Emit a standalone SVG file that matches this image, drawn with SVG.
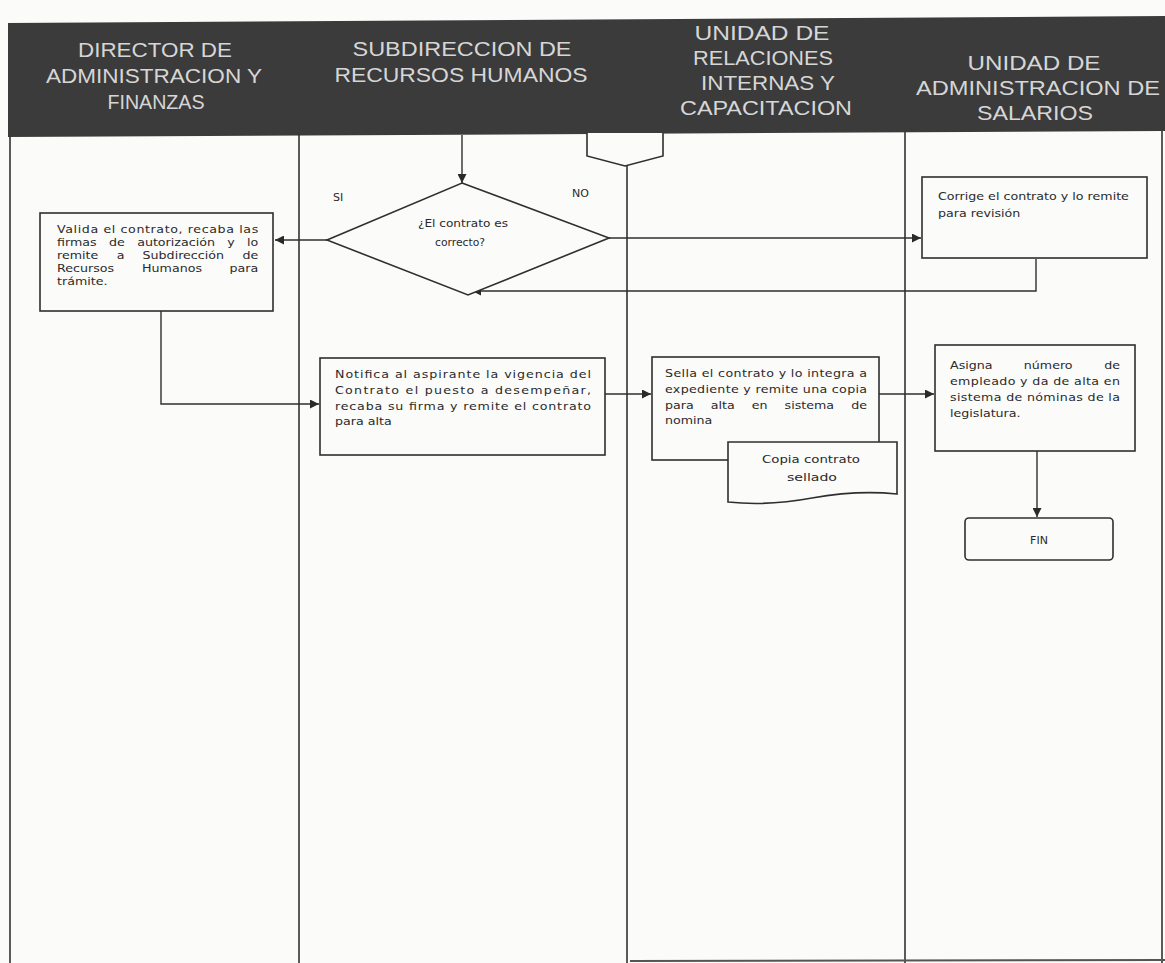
<svg xmlns="http://www.w3.org/2000/svg" width="1165" height="963" viewBox="0 0 1165 963">
<defs>
<marker id="ah" viewBox="0 0 10 10" refX="10" refY="5" markerWidth="9" markerHeight="9" markerUnits="userSpaceOnUse" orient="auto">
<path d="M0,0 L10,5 L0,10 Z" fill="#2a2a2a"/>
</marker>
<style>
.hd{font-family:"Liberation Sans",Arial,sans-serif;font-size:20px;fill:#d6d6d6;text-anchor:middle}
.t{font-family:"DejaVu Sans","Liberation Sans",sans-serif;font-size:11px;fill:#2a2a2a}
.tc{font-family:"DejaVu Sans","Liberation Sans",sans-serif;font-size:11px;fill:#2a2a2a;text-anchor:middle}
.box{fill:#fbfbfa;stroke:#2f2f2f;stroke-width:1.6}
.ln{fill:none;stroke:#2f2f2f;stroke-width:1.4}
.lane{fill:none;stroke:#333;stroke-width:1.6}
</style>
</defs>
<rect x="0" y="0" width="1165" height="963" fill="#fbfbfa"/>

<g id="header">
<polygon points="8,23 1165,16 1165,131 8,137" fill="#3b3b3b"/>
<text class="hd" x="155" y="57" textLength="154" lengthAdjust="spacingAndGlyphs">DIRECTOR DE</text>
<text class="hd" x="154" y="83" textLength="216" lengthAdjust="spacingAndGlyphs">ADMINISTRACION Y</text>
<text class="hd" x="156" y="109" textLength="97" lengthAdjust="spacingAndGlyphs">FINANZAS</text>
<text class="hd" x="462" y="56" textLength="219" lengthAdjust="spacingAndGlyphs">SUBDIRECCION DE</text>
<text class="hd" x="461" y="82" textLength="253" lengthAdjust="spacingAndGlyphs">RECURSOS HUMANOS</text>
<text class="hd" x="762" y="40" textLength="135" lengthAdjust="spacingAndGlyphs">UNIDAD DE</text>
<text class="hd" x="763" y="65" textLength="140" lengthAdjust="spacingAndGlyphs">RELACIONES</text>
<text class="hd" x="768" y="90" textLength="134" lengthAdjust="spacingAndGlyphs">INTERNAS Y</text>
<text class="hd" x="766" y="115" textLength="172" lengthAdjust="spacingAndGlyphs">CAPACITACION</text>
<text class="hd" x="1034" y="70" textLength="133" lengthAdjust="spacingAndGlyphs">UNIDAD DE</text>
<text class="hd" x="1038" y="95" textLength="244" lengthAdjust="spacingAndGlyphs">ADMINISTRACION DE</text>
<text class="hd" x="1035" y="120" textLength="116" lengthAdjust="spacingAndGlyphs">SALARIOS</text>
</g>

<g id="lanes">
<line class="lane" x1="10" y1="136" x2="10" y2="963"/>
<line class="lane" x1="299" y1="134" x2="299" y2="963"/>
<line class="lane" x1="627" y1="133" x2="627" y2="963"/>
<line class="lane" x1="905" y1="132" x2="905" y2="963"/>
<line class="lane" x1="1162" y1="131" x2="1162" y2="963"/>
<line x1="630" y1="961" x2="1165" y2="960" stroke="#555" stroke-width="2"/>
</g>

<g id="connectors">
<path class="ln" d="M462,135 V183" marker-end="url(#ah)"/>
<path class="ln" d="M327,240 H275" marker-end="url(#ah)"/>
<path class="ln" d="M609,238 H921" marker-end="url(#ah)"/>
<path class="ln" d="M1036,259 V291 H472" marker-end="url(#ah)"/>
<path class="ln" d="M161,311 V404 H319" marker-end="url(#ah)"/>
<path class="ln" d="M605,394 H651" marker-end="url(#ah)"/>
<path class="ln" d="M879,394 H934" marker-end="url(#ah)"/>
<path class="ln" d="M1037,451 V517" marker-end="url(#ah)"/>
<text class="t" x="333" y="201" font-size="9">SI</text>
<text class="t" x="572" y="197" font-size="9">NO</text>
</g>

<g id="offpage">
<path class="box" d="M587,133 V156 L625,166 L663,156 V133"/>
</g>

<g id="decision">
<polygon class="box" points="462,183 609,238 468,295 327,240"/>
<text class="tc" x="463" y="227" textLength="90" lengthAdjust="spacingAndGlyphs">¿El contrato es</text>
<text class="tc" x="460" y="246" textLength="50" lengthAdjust="spacingAndGlyphs">correcto?</text>
</g>

<g id="valida">
<rect class="box" x="40" y="213" width="233" height="98"/>
<g transform="matrix(1.15,0,0,1,-8.55,0)">
<text class="t" x="57" y="233" textLength="175" lengthAdjust="spacing">Valida el contrato, recaba las</text>
<text class="t" y="246"><tspan x="57">firmas</tspan><tspan x="102.3">de</tspan><tspan x="126.7">autorización</tspan><tspan x="205.1">y</tspan><tspan x="222.3">lo</tspan></text>
<text class="t" y="259"><tspan x="57">remite</tspan><tspan x="108.9">a</tspan><tspan x="131.4">Subdirección</tspan><tspan x="218.3">de</tspan></text>
<text class="t" y="272"><tspan x="57">Recursos</tspan><tspan x="131">Humanos</tspan><tspan x="207">para</tspan></text>
<text class="t" x="57" y="285">trámite.</text>
</g>
</g>

<g id="corrige">
<rect class="box" x="922" y="177" width="225" height="81"/>
<g transform="matrix(1.15,0,0,1,-140.7,0)">
<text class="t" x="938" y="200" textLength="166" lengthAdjust="spacingAndGlyphs">Corrige el contrato y lo remite</text>
<text class="t" x="938" y="217">para revisión</text>
</g>
</g>

<g id="notifica">
<rect class="box" x="320" y="358" width="285" height="97"/>
<g transform="matrix(1.15,0,0,1,-50.25,0)">
<text class="t" x="335" y="378" textLength="222.6" lengthAdjust="spacing">Notifica al aspirante la vigencia del</text>
<text class="t" x="335" y="394" textLength="222.6" lengthAdjust="spacing">Contrato el puesto a desempeñar,</text>
<text class="t" x="335" y="410" textLength="222.6" lengthAdjust="spacing">recaba su firma y remite el contrato</text>
<text class="t" x="335" y="425">para alta</text>
</g>
</g>

<g id="sella">
<rect class="box" x="652" y="357" width="227" height="103"/>
<g transform="matrix(1.15,0,0,1,-99.75,0)">
<text class="t" x="665" y="377" textLength="175.7" lengthAdjust="spacing">Sella el contrato y lo integra a</text>
<text class="t" x="665" y="393" textLength="175.7" lengthAdjust="spacing">expediente y remite una copia</text>
<text class="t" y="409"><tspan x="665">para</tspan><tspan x="704.8">alta</tspan><tspan x="740.5">en</tspan><tspan x="769">sistema</tspan><tspan x="826.9">de</tspan></text>
<text class="t" x="665" y="424">nomina</text>
</g>
</g>

<g id="copia">
<path class="box" d="M728,442 H897 V494 C868,491 840,493 812,498 C785,503 755,505 728,502 Z"/>
<text class="tc" x="811" y="463" textLength="98" lengthAdjust="spacingAndGlyphs">Copia contrato</text>
<text class="tc" x="812" y="481" textLength="50" lengthAdjust="spacingAndGlyphs">sellado</text>
</g>

<g id="asigna">
<rect class="box" x="935" y="345" width="200" height="106"/>
<g transform="matrix(1.15,0,0,1,-142.5,0)">
<text class="t" y="369"><tspan x="950">Asigna</tspan><tspan x="1014.2">número</tspan><tspan x="1084.1">de</tspan></text>
<text class="t" x="950" y="385" textLength="147.8" lengthAdjust="spacing">empleado y da de alta en</text>
<text class="t" x="950" y="401" textLength="147.8" lengthAdjust="spacing">sistema de nóminas de la</text>
<text class="t" x="950" y="417">legislatura.</text>
</g>
</g>

<g id="fin">
<rect class="box" x="965" y="518" width="148" height="42" rx="4"/>
<text class="tc" x="1039" y="544" font-size="11">FIN</text>
</g>
</svg>
